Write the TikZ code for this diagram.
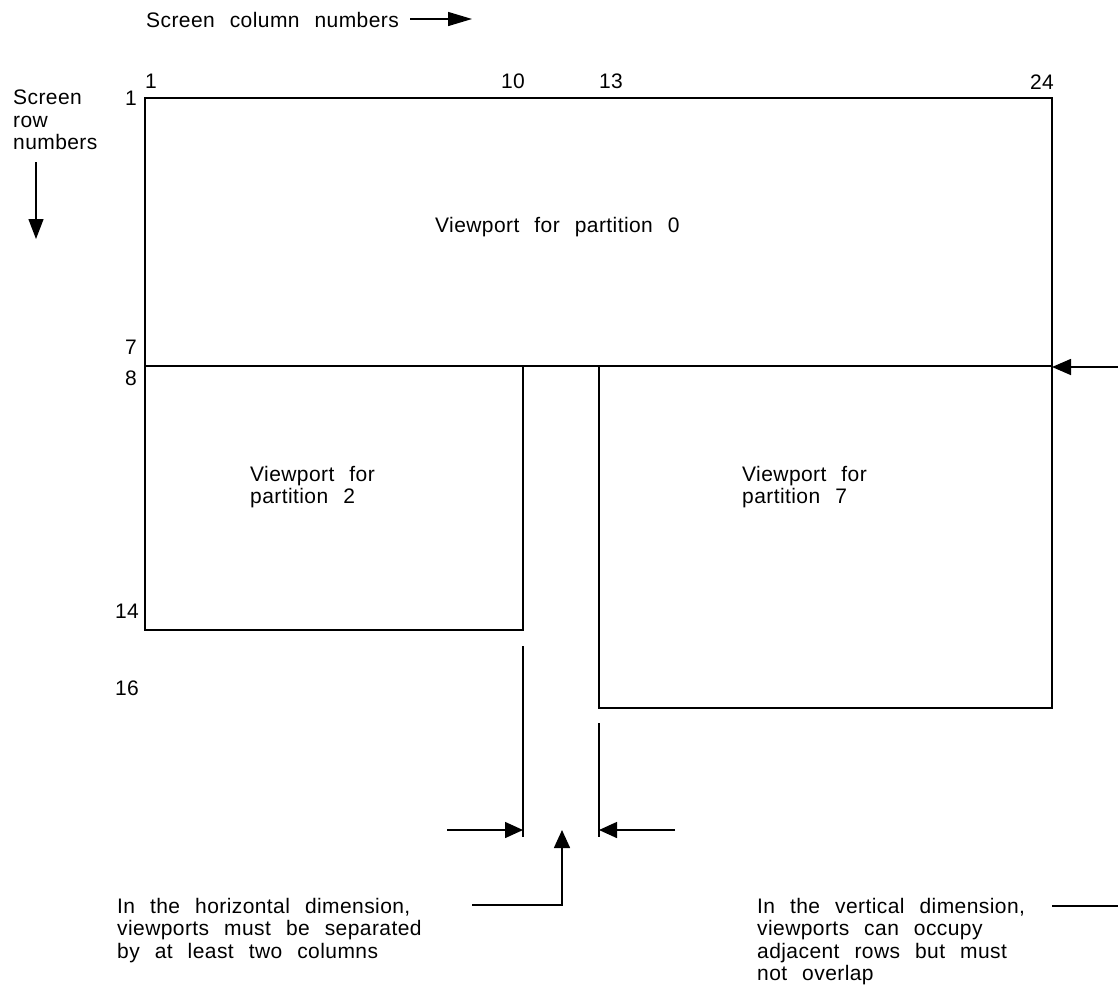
\documentclass[tikz,border=0pt]{standalone}
\usepackage{fontspec}
\setmainfont{Liberation Sans}[LetterSpace=2,WordSpace=2.4]
\usetikzlibrary{arrows.meta}
\begin{document}
\begin{tikzpicture}[x=1pt,y=-1pt,
  lbl/.style={inner sep=0pt, font=\fontsize{21}{22.4}\selectfont, align=left},
  boxline/.style={line width=2.6pt, line join=miter},
  extline/.style={line width=1.3pt},
  arr/.style={line width=1.6pt, -{Triangle[length=19pt,width=16pt]}},
  leader/.style={line width=1.6pt}]
\useasboundingbox (0,0) rectangle (1118,986);
\fill[white] (0,0) rectangle (1118,986);

% boxes (corners)
\coordinate (b0nw) at (145,98);
\coordinate (b0se) at (1052,366);
\coordinate (b2nw) at (145,366);
\coordinate (b2se) at (523,630);
\coordinate (b7nw) at (599,366);
\coordinate (b7se) at (1052,708);
\draw[boxline] (b0nw) rectangle (b0se);
\draw[boxline] (b2nw) rectangle (b2se);
\draw[boxline] (b7nw) rectangle (b7se);

% box texts
\node[lbl, anchor=north west] (t0) at (435,217) {Viewport for partition 0};
\node[lbl, anchor=north west] (t2) at (250,466) {Viewport for\\partition 2};
\node[lbl, anchor=north west] (t7) at (742,466) {Viewport for\\partition 7};

% axis titles
\node[lbl, anchor=base west] (colt) at (146,27) {Screen column numbers};
\coordinate (cola) at (410,19);
\coordinate (colb) at (472,19);
\draw[line width=1.4pt, -{Triangle[length=24pt,width=14pt]}] (cola) -- (colb);

\node[lbl, anchor=north west] (rowt) at (13,90) {Screen\\row\\numbers};
\coordinate (rowa) at (36,162);
\coordinate (rowb) at (36,239);
\draw[line width=1.3pt, -{Triangle[length=20pt,width=15pt]}] (rowa) -- (rowb);

% column numbers
\node[lbl, anchor=base] (c1) at (151,88) {1};
\node[lbl, anchor=base] (c10) at (513,88) {10};
\node[lbl, anchor=base] (c13) at (611,88) {13};
\node[lbl, anchor=base] (c24) at (1042,89) {24};

% row numbers
\node[lbl, anchor=base] (r1) at (131,105) {1};
\node[lbl, anchor=base] (r7) at (131,354) {7};
\node[lbl, anchor=base] (r8) at (131,385) {8};
\node[lbl, anchor=base] (r14) at (127,618) {14};
\node[lbl, anchor=base] (r16) at (127,695) {16};

% right arrow onto row 7/8 boundary
\coordinate (ra) at (1118,367);
\coordinate (rb) at (1052,367);
\draw[arr] (ra) -- (rb);

% extension lines
\coordinate (e10a) at (523,646);
\coordinate (e10b) at (523,837);
\coordinate (e13a) at (599,723);
\coordinate (e13b) at (599,837);
\draw[extline] (e10a) -- (e10b);
\draw[extline] (e13a) -- (e13b);

% dimension arrows
\coordinate (la) at (447,830);
\coordinate (lb) at (523,830);
\coordinate (rra) at (675,830);
\coordinate (rrb) at (599,830);
\draw[line width=1.5pt, -{Triangle[length=18pt,width=16pt]}] (la) -- (lb);
\draw[line width=1.5pt, -{Triangle[length=18pt,width=16pt]}] (rra) -- (rrb);

% bottom-left note with leader and up arrow
\node[lbl, anchor=north west] (nh) at (117,898) {In the horizontal dimension,\\viewports must be separated\\by at least two columns};
\coordinate (ha) at (472,905);
\coordinate (hb) at (562,905);
\coordinate (hc) at (562,830);
\draw[leader, -{Triangle[length=18pt,width=16pt]}] (ha) -- (hb) -- (hc);

% bottom-right note with leader
\node[lbl, anchor=north west] (nv) at (757,898) {In the vertical dimension,\\viewports can occupy\\adjacent rows but must\\not overlap};
\coordinate (va) at (1052,906);
\coordinate (vb) at (1118,906);
\draw[leader] (va) -- (vb);
\end{tikzpicture}
\end{document}
